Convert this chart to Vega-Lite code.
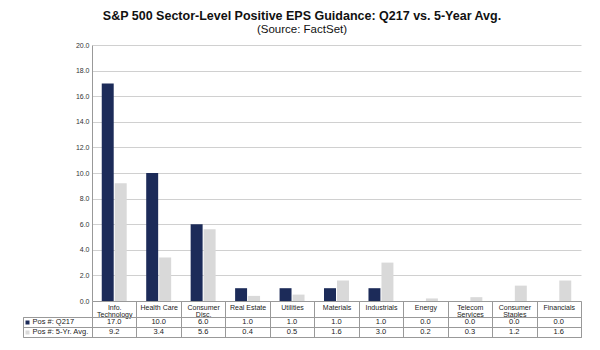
{
  "$schema": "https://vega.github.io/schema/vega-lite/v6.json",
  "background": "white",
  "padding": {"left": 22, "top": 10, "right": 20, "bottom": 10},
  "bounds": "flush",
  "columns": 2,
  "spacing": {"row": 16, "column": 0},
  "title": {
    "text": "S&P 500 Sector-Level Positive EPS Guidance: Q217 vs. 5-Year Avg.",
    "subtitle": "(Source: FactSet)",
    "anchor": "middle",
    "font": "Liberation Sans",
    "fontSize": 12.5,
    "fontWeight": "bold",
    "color": "#111",
    "subtitleFont": "Liberation Sans",
    "subtitleFontSize": 11.5,
    "subtitleColor": "#111",
    "subtitlePadding": 1,
    "offset": 6
  },
  "config": {
    "view": {"stroke": null},
    "font": "Liberation Sans",
    "axis": {"title": null}
  },
  "resolve": {"scale": {"x": "independent", "y": "independent", "color": "independent"}},
  "datasets": {
    "eps": [
      {"sector": "Info.|Technology", "series": "Pos #: Q217", "value": 17.0},
      {"sector": "Info.|Technology", "series": "Pos #: 5-Yr. Avg.", "value": 9.2},
      {"sector": "Health Care", "series": "Pos #: Q217", "value": 10.0},
      {"sector": "Health Care", "series": "Pos #: 5-Yr. Avg.", "value": 3.4},
      {"sector": "Consumer|Disc.", "series": "Pos #: Q217", "value": 6.0},
      {"sector": "Consumer|Disc.", "series": "Pos #: 5-Yr. Avg.", "value": 5.6},
      {"sector": "Real Estate", "series": "Pos #: Q217", "value": 1.0},
      {"sector": "Real Estate", "series": "Pos #: 5-Yr. Avg.", "value": 0.4},
      {"sector": "Utilities", "series": "Pos #: Q217", "value": 1.0},
      {"sector": "Utilities", "series": "Pos #: 5-Yr. Avg.", "value": 0.5},
      {"sector": "Materials", "series": "Pos #: Q217", "value": 1.0},
      {"sector": "Materials", "series": "Pos #: 5-Yr. Avg.", "value": 1.6},
      {"sector": "Industrials", "series": "Pos #: Q217", "value": 1.0},
      {"sector": "Industrials", "series": "Pos #: 5-Yr. Avg.", "value": 3.0},
      {"sector": "Energy", "series": "Pos #: Q217", "value": 0.0},
      {"sector": "Energy", "series": "Pos #: 5-Yr. Avg.", "value": 0.2},
      {"sector": "Telecom|Services", "series": "Pos #: Q217", "value": 0.0},
      {"sector": "Telecom|Services", "series": "Pos #: 5-Yr. Avg.", "value": 0.3},
      {"sector": "Consumer|Staples", "series": "Pos #: Q217", "value": 0.0},
      {"sector": "Consumer|Staples", "series": "Pos #: 5-Yr. Avg.", "value": 1.2},
      {"sector": "Financials", "series": "Pos #: Q217", "value": 0.0},
      {"sector": "Financials", "series": "Pos #: 5-Yr. Avg.", "value": 1.6}
    ],
    "legend": [
      {"series": "Pos #: Q217"},
      {"series": "Pos #: 5-Yr. Avg."}
    ]
  },
  "concat": [
    {
      "width": 69,
      "height": 256,
      "data": {"name": "legend"},
      "mark": {"type": "text"},
      "encoding": {"text": {"value": ""}}
    },
    {
      "width": 489,
      "height": 256,
      "data": {"name": "eps"},
      "mark": {"type": "bar"},
      "encoding": {
        "x": {
          "field": "sector",
          "type": "nominal",
          "sort": null,
          "scale": {"paddingInner": 0, "paddingOuter": 0},
          "axis": {
            "labelExpr": "split(datum.label, '|')",
            "labelAngle": 0,
            "labelFontSize": 7,
            "labelLineHeight": 7,
            "labelColor": "#222",
            "labelPadding": -14,
            "labelBaseline": "top",
            "tickBand": "extent",
            "tickSize": 16,
            "tickColor": "#999",
            "domainColor": "#999"
          }
        },
        "xOffset": {
          "field": "series",
          "type": "nominal",
          "sort": ["Pos #: Q217", "Pos #: 5-Yr. Avg."],
          "scale": {"paddingInner": 0.08, "paddingOuter": 0.75}
        },
        "y": {
          "field": "value",
          "type": "quantitative",
          "scale": {"domain": [0, 20], "nice": false},
          "axis": {
            "values": [0, 2, 4, 6, 8, 10, 12, 14, 16, 18, 20],
            "format": ".1f",
            "labelFontSize": 7,
            "labelColor": "#333",
            "labelPadding": 3,
            "ticks": false,
            "domainColor": "#999",
            "gridColor": "#d0d0d0"
          }
        },
        "color": {
          "field": "series",
          "type": "nominal",
          "scale": {"domain": ["Pos #: Q217", "Pos #: 5-Yr. Avg."], "range": ["#1c2b59", "#d9d9d9"]},
          "legend": null
        }
      }
    },
    {
      "width": 69,
      "height": 20,
      "view": {"stroke": "#999"},
      "data": {"name": "legend"},
      "resolve": {"axis": {"y": "independent"}},
      "layer": [
        {
          "mark": {"type": "text"},
          "encoding": {
            "text": {"value": ""},
            "x": {"datum": "cell", "type": "nominal", "axis": null},
            "y": {
              "field": "series",
              "type": "nominal",
              "sort": ["Pos #: Q217", "Pos #: 5-Yr. Avg."],
              "scale": {"paddingInner": 0, "paddingOuter": 0},
              "axis": {
                "orient": "left",
                "offset": -6,
                "domain": false,
                "grid": false,
                "tickSize": 4,
                "tickWidth": 4,
                "tickColor": {"condition": {"test": "datum.value === 'Pos #: Q217'", "value": "#1c2b59"}, "value": "#d9d9d9"},
                "labelAlign": "left",
                "labelPadding": -7,
                "labelFontSize": 7.5,
                "labelColor": "#222"
              }
            }
          }
        },
        {
          "mark": {"type": "text"},
          "encoding": {
            "text": {"value": ""},
            "x": {"datum": "cell", "type": "nominal", "axis": null},
            "y": {
              "field": "series",
              "type": "nominal",
              "sort": ["Pos #: Q217", "Pos #: 5-Yr. Avg."],
              "axis": {
                "orient": "right",
                "labels": false,
                "ticks": false,
                "domain": false,
                "grid": true,
                "tickBand": "extent",
                "gridColor": "#999"
              }
            }
          }
        }
      ]
    },
    {
      "width": 489,
      "height": 20,
      "view": {"stroke": "#999"},
      "data": {"name": "eps"},
      "mark": {"type": "text", "fontSize": 7.5, "color": "#222"},
      "encoding": {
        "x": {
          "field": "sector",
          "type": "nominal",
          "sort": null,
          "scale": {"paddingInner": 0, "paddingOuter": 0},
          "axis": {"labels": false, "ticks": false, "domain": false, "grid": true, "tickBand": "extent", "gridColor": "#999"}
        },
        "y": {
          "field": "series",
          "type": "nominal",
          "sort": ["Pos #: Q217", "Pos #: 5-Yr. Avg."],
          "scale": {"paddingInner": 0, "paddingOuter": 0},
          "axis": {"labels": false, "ticks": false, "domain": false, "grid": true, "tickBand": "extent", "gridColor": "#999"}
        },
        "text": {"field": "value", "type": "quantitative", "format": ".1f"}
      }
    }
  ]
}
